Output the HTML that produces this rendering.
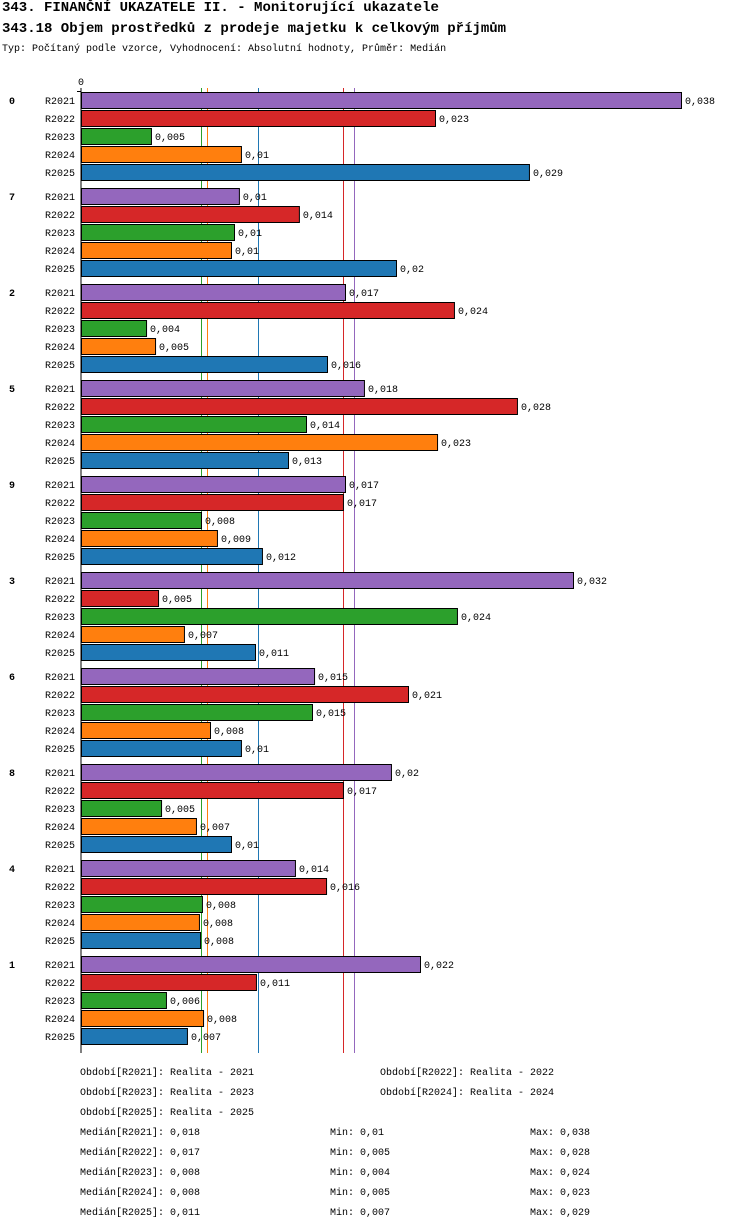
<!DOCTYPE html>
<html><head><meta charset="utf-8"><style>
body{margin:0;background:#fff;width:750px;height:1232px;overflow:hidden;font-family:"Liberation Mono","DejaVu Sans Mono",monospace;}
.t{position:absolute;white-space:nowrap;color:#000}
</style></head><body>
<div class="t" style="left:2px;top:0px;font-size:14px;font-weight:bold">343. FINANČNÍ UKAZATELE II. - Monitorující ukazatele</div>
<div class="t" style="left:2px;top:21px;font-size:14px;font-weight:bold">343.18 Objem prostředků z prodeje majetku k celkovým příjmům</div>
<div class="t" style="left:2px;top:44px;font-size:10px">Typ: Počítaný podle vzorce, Vyhodnocení: Absolutní hodnoty, Průměr: Medián</div>
<svg id="chart" width="750" height="1232" style="position:absolute;left:0;top:0" font-family="Liberation Mono, DejaVu Sans Mono, monospace" font-size="10"></svg>
<div id="foot"></div>
<script>
const groups=["0","7","2","5","9","3","6","8","4","1"];
const series=["R2021","R2022","R2023","R2024","R2025"];
const colors=["#9467bd","#d62728","#2ca02c","#ff7f0e","#1f77b4"];
const v2021=[0.038,0.0100,0.01672,0.01792,0.01672,0.03116,0.01476,0.01963,0.01355,0.02147];
const v2022=[0.02242,0.0138,0.02362,0.02761,0.01659,0.00488,0.02071,0.01659,0.01552,0.01108];
const v2023=[0.00443,0.00969,0.00412,0.01425,0.0076,0.02381,0.01463,0.00507,0.00766,0.00538];
const v2024=[0.01013,0.0095,0.00469,0.02255,0.00861,0.00652,0.00817,0.00728,0.00747,0.00773];
const v2025=[0.02837,0.01995,0.01558,0.01311,0.01146,0.01102,0.01013,0.0095,0.00754,0.00671];
const l2021=["0,038","0,01","0,017","0,018","0,017","0,032","0,015","0,02","0,014","0,022"];
const l2022=["0,023","0,014","0,024","0,028","0,017","0,005","0,021","0,017","0,016","0,011"];
const l2023=["0,005","0,01","0,004","0,014","0,008","0,024","0,015","0,005","0,008","0,006"];
const l2024=["0,01","0,01","0,005","0,023","0,009","0,007","0,008","0,007","0,008","0,008"];
const l2025=["0,029","0,02","0,016","0,013","0,012","0,011","0,01","0,01","0,008","0,007"];
const medLabels=["0,018","0,017","0,008","0,008","0,011"];
const minLabels=["0,01","0,005","0,004","0,005","0,007"];
const maxLabels=["0,038","0,028","0,024","0,023","0,029"];
const vals=[v2021,v2022,v2023,v2024,v2025];
const labs=[l2021,l2022,l2023,l2024,l2025];
const xMax=0.038;
const NS="http://www.w3.org/2000/svg";
const svg=document.getElementById('chart');
const X0=81,W=600;
const x=v=>X0+v/xMax*W;
const rowY=(g,s)=>100+g*96+s*18;
function mk(tag,a){const e=document.createElementNS(NS,tag);for(const k in a)e.setAttribute(k,a[k]);svg.appendChild(e);return e;}
const median=a=>{const s=[...a].sort((p,q)=>p-q);const n=s.length;return n%2?s[(n-1)/2]:(s[n/2-1]+s[n/2])/2;};
const meds=vals.map(median);
meds.forEach((m,si)=>{
  const l=mk('line',{x1:Math.round(x(m))+0.5,y1:88,x2:Math.round(x(m))+0.5,y2:1053,stroke:colors[si],'stroke-width':1});
  
});
let e=mk('line',{x1:X0,y1:88,x2:X0,y2:1053,stroke:'#000'});

e=mk('line',{x1:77,y1:91.5,x2:X0,y2:91.5,stroke:'#000'});

e=mk('text',{x:X0,y:85,'text-anchor':'middle'});e.textContent='0';

groups.forEach((g,gi)=>{
  const t=mk('text',{x:9,y:rowY(gi,0)+4,'font-weight':'bold'});t.textContent=g;
  
  series.forEach((s,si)=>{
    const y=rowY(gi,si),v=vals[si][gi];
    const l=mk('text',{x:75,y:y+4,'text-anchor':'end'});l.textContent=s;
    
    const r=mk('rect',{x:X0+0.5,y:y-7.5,width:x(v)-X0,height:16,fill:colors[si],stroke:'#000','stroke-width':1});
    
    const vt=mk('text',{x:x(v)+4,y:y+4});vt.textContent=labs[si][gi];
    
  });
});
const foot=document.getElementById('foot');
function ft(txt,l,t,name){const d=document.createElement('div');d.className='t';d.style.cssText=`left:${l}px;top:${t}px;font-size:10px`;d.textContent=txt;


foot.appendChild(d);}
ft('Období[R2021]: Realita - 2021',80,1068,'period-legend');
ft('Období[R2022]: Realita - 2022',380,1068,'period-legend');
ft('Období[R2023]: Realita - 2023',80,1088,'period-legend');
ft('Období[R2024]: Realita - 2024',380,1088,'period-legend');
ft('Období[R2025]: Realita - 2025',80,1108,'period-legend');
series.forEach((s,si)=>{
  const y=1128+si*20;
  ft('Medián['+s+']: '+medLabels[si],80,y,'median-stat');
  ft('Min: '+minLabels[si],330,y,'min-stat');
  ft('Max: '+maxLabels[si],530,y,'max-stat');
});
</script>
</body></html>
